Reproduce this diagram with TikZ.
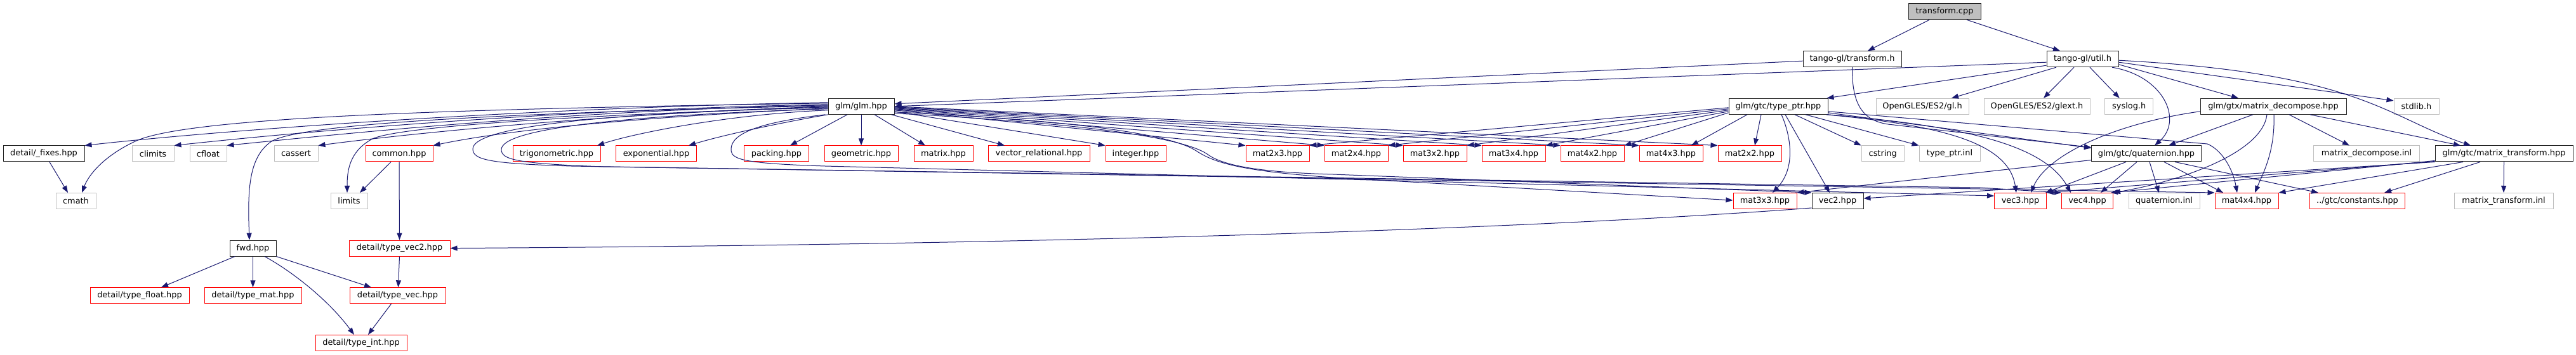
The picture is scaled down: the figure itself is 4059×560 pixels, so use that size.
\documentclass[tikz,border=0pt]{standalone}
\usepackage{fontspec}
\setmainfont{DejaVu Sans}
\usetikzlibrary{arrows.meta}
\definecolor{edgec}{HTML}{191970}
\definecolor{extc}{HTML}{BFBFBF}
\definecolor{redc}{HTML}{FF0000}
\definecolor{docc}{HTML}{202020}
\begin{document}
\begin{tikzpicture}[x=0.5pt,y=-0.5pt,
  box/.style={draw,rectangle,minimum height=12.5pt,inner sep=0pt,line width=0.5pt,fill=white,
    font=\fontsize{6.45}{7.5}\selectfont,text=black},
  doc/.style={box,draw=docc},
  ext/.style={box,draw=extc},
  trunc/.style={box,draw=redc},
  wd/.style={minimum width=#1*0.5pt},
  e/.style={draw=edgec,line width=0.5pt,-{Triangle[length=5.5pt,width=4pt]}}]
\useasboundingbox (0,0) rectangle (4059,560);
\fill[white] (0,0) rectangle (4059,560);
% row 0
\node[doc,wd=114,fill=extc] (tcpp) at (3064,18.3) {transform.cpp};
% row 1
\node[doc,wd=155] (th) at (2918.5,93.2) {tango-gl/transform.h};
\node[doc,wd=113] (tu) at (3281.5,93.2) {tango-gl/util.h};
% row 2
\node[doc,wd=104] (glm) at (1357,167.8) {glm/glm.hpp};
\node[doc,wd=156] (tptr) at (2802,167.8) {glm/gtc/type\_ptr.hpp};
\node[ext,wd=146] (gl) at (3029,167.8) {OpenGLES/ES2/gl.h};
\node[ext,wd=167] (glext) at (3209.5,167.8) {OpenGLES/ES2/glext.h};
\node[ext,wd=76] (syslog) at (3354.7,167.8) {syslog.h};
\node[doc,wd=230] (mdec) at (3582,167.8) {glm/gtx/matrix\_decompose.hpp};
\node[ext,wd=71] (stdlib) at (3807.5,167.8) {stdlib.h};
% row 3
\node[doc,wd=128] (fixes) at (69,242.5) {detail/\_fixes.hpp};
\node[ext,wd=66] (climits) at (241,242.5) {climits};
\node[ext,wd=58] (cfloat) at (328,242.5) {cfloat};
\node[ext,wd=69] (cassert) at (466.5,242.5) {cassert};
\node[trunc,wd=106] (common) at (629,242.5) {common.hpp};
\node[trunc,wd=138] (trig) at (877,242.5) {trigonometric.hpp};
\node[trunc,wd=127] (expo) at (1034,242.5) {exponential.hpp};
\node[trunc,wd=102] (packing) at (1223.5,242.5) {packing.hpp};
\node[trunc,wd=116] (geom) at (1357,242.5) {geometric.hpp};
\node[trunc,wd=93] (matrix) at (1486.5,242.5) {matrix.hpp};
\node[trunc,wd=160] (vrel) at (1637,242.5) {vector\_relational.hpp};
\node[trunc,wd=95] (integer) at (1789.5,242.5) {integer.hpp};
\node[trunc,wd=100] (m23) at (2013,242.5) {mat2x3.hpp};
\node[trunc,wd=100] (m24) at (2137,242.5) {mat2x4.hpp};
\node[trunc,wd=100] (m32) at (2261,242.5) {mat3x2.hpp};
\node[trunc,wd=100] (m34) at (2385,242.5) {mat3x4.hpp};
\node[trunc,wd=100] (m42) at (2509,242.5) {mat4x2.hpp};
\node[trunc,wd=100] (m43) at (2633,242.5) {mat4x3.hpp};
\node[trunc,wd=100] (m22) at (2757,242.5) {mat2x2.hpp};
\node[ext,wd=67] (cstring) at (2966.7,242.5) {cstring};
\node[ext,wd=96] (tpinl) at (3072,242.5) {type\_ptr.inl};
\node[doc,wd=173] (quat) at (3382,242.5) {glm/gtc/quaternion.hpp};
\node[ext,wd=167] (mdinl) at (3729,242.5) {matrix\_decompose.inl};
\node[doc,wd=217] (mtr) at (3945.5,242.5) {glm/gtc/matrix\_transform.hpp};
% row 4
\node[ext,wd=63] (cmath) at (119.5,317) {cmath};
\node[ext,wd=58] (limits) at (550,317) {limits};
\node[trunc,wd=100] (m33) at (2781,317) {mat3x3.hpp};
\node[doc,wd=81] (vec2) at (2895.5,317) {vec2.hpp};
\node[trunc,wd=82] (vec3) at (3183.5,317) {vec3.hpp};
\node[trunc,wd=81] (vec4) at (3289,317) {vec4.hpp};
\node[ext,wd=112] (qinl) at (3410,317) {quaternion.inl};
\node[trunc,wd=100] (m44) at (3540,317) {mat4x4.hpp};
\node[trunc,wd=150] (cst) at (3714.5,317) {../gtc/constants.hpp};
\node[ext,wd=156] (mtinl) at (3945,317) {matrix\_transform.inl};
% row 5-7
\node[doc,wd=73] (fwd) at (398.5,391.6) {fwd.hpp};
\node[trunc,wd=159] (tv2) at (629.5,391.6) {detail/type\_vec2.hpp};
\node[trunc,wd=156] (tfloat) at (220,466.3) {detail/type\_float.hpp};
\node[trunc,wd=153] (tmat) at (398.5,466.3) {detail/type\_mat.hpp};
\node[trunc,wd=151] (tvec) at (626.5,466.3) {detail/type\_vec.hpp};
\node[trunc,wd=144] (tint) at (569,541) {detail/type\_int.hpp};

% ---- edges: transform.cpp
\draw[e] ([shift={(-24,0)}]tcpp.south) -- ([shift={(24.5,0)}]th.north);
\draw[e] ([shift={(35,0)}]tcpp.south) -- ([shift={(-35.5,0)}]tu.north);
% transform.h
\draw[e] ([shift={(0,3)}]th.west) -- ([shift={(0,-4)}]glm.east);
\draw[e] (th.south) .. controls (2918,165) and (2935,190) .. (2975,196) -- ([shift={(0,-10)}]quat.west);
% util.h
\draw[e] ([shift={(0,5)}]tu.west) -- (glm.east);
\draw[e] ([shift={(0,10)}]tu.west) -- ([shift={(-2,0)}]tptr.north east);
\draw[e] ([shift={(-41.5,0)}]tu.south) -- ([shift={(46,0)}]gl.north);
\draw[e] ([shift={(-13.5,0)}]tu.south) -- ([shift={(10.5,0)}]glext.north);
\draw[e] ([shift={(11.5,0)}]tu.south) -- ([shift={(-15,0)}]syslog.north);
\draw[e] ([shift={(46.5,0)}]tu.south) .. controls (3410,120) and (3440,190) .. ([shift={(13,0)}]quat.north);
\draw[e] ([shift={(0,8.5)}]tu.east) -- ([shift={(-55,0)}]mdec.north);
\draw[e] ([shift={(0,5)}]tu.east) -- ([shift={(0,-9)}]stdlib.west);
\draw[e] ([shift={(0,2)}]tu.east) .. controls (3720,115) and (3760,185) .. ([shift={(-52.5,0)}]mtr.north);
% type_ptr.hpp
\draw[e] ([shift={(0,8)}]tptr.east) -- (3478,227) .. controls (3500,236) and (3518,265) .. ([shift={(-15,0)}]m44.north);
\draw[e] ([shift={(0,10)}]tptr.east) -- ([shift={(0,-9)}]quat.west);
\draw[e] ([shift={(-3,0)}]tptr.south east) .. controls (3060,198) and (3165,225) .. ([shift={(-6.5,0)}]vec3.north);
\draw[e] ([shift={(-1,0)}]tptr.south east) .. controls (3120,200) and (3225,235) .. ([shift={(-26,0)}]vec4.north);
\draw[e] ([shift={(26,0)}]tptr.south) -- (cstring.north west);
\draw[e] ([shift={(43,0)}]tptr.south) -- (tpinl.north west);
\draw[e] ([shift={(11,0)}]tptr.south) -- ([shift={(-12.5,0)}]vec2.north);
\draw[e] ([shift={(5,0)}]tptr.south) .. controls (2822,215) and (2830,265) .. ([shift={(12,0)}]m33.north);
\draw[e] ([shift={(-27,0)}]tptr.south) -- ([shift={(8,0)}]m22.north);
\draw[e] ([shift={(-49,0)}]tptr.south) -- ([shift={(32,0)}]m43.north);
\draw[e] ([shift={(0,10)}]tptr.west) -- (m42.north east);
\draw[e] ([shift={(0,8)}]tptr.west) -- (m34.north east);
\draw[e] ([shift={(0,6)}]tptr.west) -- (m32.north east);
\draw[e] ([shift={(0,4)}]tptr.west) -- (m24.north east);
\draw[e] ([shift={(0,2)}]tptr.west) -- (m23.north east);
% glm.hpp to the right
\draw[e] (glm.east) -- (m22.north west);
\draw[e] ([shift={(0,1)}]glm.east) -- (m43.north west);
\draw[e] ([shift={(0,2)}]glm.east) -- (m42.north west);
\draw[e] ([shift={(0,3)}]glm.east) -- (m34.north west);
\draw[e] ([shift={(0,4)}]glm.east) -- (m32.north west);
\draw[e] ([shift={(0,5)}]glm.east) -- (m24.north west);
\draw[e] ([shift={(0,6)}]glm.east) -- (m23.north west);
\draw[e] ([shift={(0,8)}]glm.east) -- (integer.north west);
\draw[e] ([shift={(-5,0)}]glm.south east) -- ([shift={(-54,0)}]vrel.north);
\draw[e] ([shift={(21,0)}]glm.south) -- ([shift={(-28.5,0)}]matrix.north);
\draw[e] (glm.south) -- (geom.north);
\draw[e] ([shift={(-22,0)}]glm.south) -- ([shift={(21.5,0)}]packing.north);
\draw[e] ([shift={(0,9)}]glm.east) .. controls (1700,190) and (1845,212) .. (1885,238) .. controls (1915,258) and (1960,270) .. (2100,280) -- ([shift={(0,-1)}]m33.west);
\draw[e] ([shift={(0,11)}]glm.east) .. controls (1720,195) and (1870,218) .. (1905,245) .. controls (1930,262) and (1990,272) .. (2100,275) -- (vec2.north west);
% glm.hpp loops to row 4
\draw[e] ([shift={(0,2)}]glm.west) .. controls (950,178) and (745,200) .. (745,235) .. controls (745,252) and (770,258) .. (900,262) -- (m44.north west);
\draw[e] ([shift={(0,4)}]glm.west) .. controls (980,182) and (790,203) .. (790,236) .. controls (790,252) and (815,258) .. (950,263) -- (3120,296) -- (vec4.north west);
\draw[e] ([shift={(-4,0)}]glm.south west) .. controls (1180,195) and (1150,215) .. (1152,238) .. controls (1154,252) and (1175,258) .. (1300,262) -- ([shift={(0,-8)}]vec3.west);
% glm.hpp to the left
\draw[e] ([shift={(0,-6)}]glm.west) .. controls (900,168) and (400,200) .. (fixes.north east);
\draw[e] ([shift={(0,-5)}]glm.west) .. controls (700,172) and (300,185) .. (215,222) .. controls (165,245) and (140,275) .. ([shift={(9.5,0)}]cmath.north);
\draw[e] ([shift={(0,-3)}]glm.west) .. controls (900,172) and (500,205) .. (climits.north east);
\draw[e] ([shift={(0,-2)}]glm.west) .. controls (900,174) and (550,210) .. (cfloat.north east);
\draw[e] ([shift={(0,-1)}]glm.west) .. controls (800,178) and (460,195) .. (425,225) .. controls (392,250) and (390,300) .. ([shift={(-5.5,0)}]fwd.north);
\draw[e] (glm.west) .. controls (950,180) and (650,210) .. (cassert.north east);
\draw[e] ([shift={(0,1)}]glm.west) .. controls (900,182) and (620,200) .. (585,220) .. controls (550,240) and (547,270) .. ([shift={(-3,0)}]limits.north);
\draw[e] ([shift={(0,3)}]glm.west) .. controls (1000,185) and (800,205) .. (common.north east);
\draw[e] ([shift={(0,6)}]glm.west) .. controls (1150,180) and (1000,210) .. ([shift={(64,0)}]trig.north);
\draw[e] (glm.south west) .. controls (1250,190) and (1150,210) .. ([shift={(51,0)}]expo.north);
% lower left
\draw[e] ([shift={(-28.5,0)}]fwd.south) -- ([shift={(34,0)}]tfloat.north);
\draw[e] (fwd.south) -- (tmat.north);
\draw[e] ([shift={(18.5,0)}]fwd.south) .. controls (455,425) and (515,470) .. ([shift={(-11,0)}]tint.north);
\draw[e] (fwd.south east) -- ([shift={(-41.5,0)}]tvec.north);
\draw[e] (tv2.south) -- ([shift={(1,0)}]tvec.north);
\draw[e] ([shift={(-10,0)}]tvec.south) -- ([shift={(11,0)}]tint.north);
\draw[e] (common.south) -- (tv2.north);
\draw[e] ([shift={(-13,0)}]common.south) -- ([shift={(17,0)}]limits.north);
\draw[e] ([shift={(9,0)}]fixes.south) -- ([shift={(-12.5,0)}]cmath.north);
\draw[e] ([shift={(0,11)}]vec2.west) .. controls (2500,355) and (1800,385) .. (tv2.east);
% quaternion.hpp
\draw[e] ([shift={(0,-3)}]quat.south west) -- (m33.north east);
\draw[e] ([shift={(-32,0)}]quat.south) -- ([shift={(-2,0)}]vec3.north east);
\draw[e] ([shift={(-15,0)}]quat.south) -- ([shift={(21,0)}]vec4.north);
\draw[e] ([shift={(5,0)}]quat.south) -- ([shift={(-8,0)}]qinl.north);
\draw[e] ([shift={(28,0)}]quat.south) -- ([shift={(-37,0)}]m44.north);
\draw[e] ([shift={(45,0)}]quat.south) -- ([shift={(-61.5,0)}]cst.north);
% matrix_decompose.hpp
\draw[e] ([shift={(0,8)}]mdec.west) .. controls (3330,195) and (3225,245) .. ([shift={(16.5,0)}]vec3.north);
\draw[e] ([shift={(-32,0)}]mdec.south) -- ([shift={(35,0)}]quat.north);
\draw[e] ([shift={(-10,0)}]mdec.south) .. controls (3565,240) and (3440,285) .. (vec4.north east);
\draw[e] ([shift={(1,0)}]mdec.south) .. controls (3585,240) and (3565,275) .. ([shift={(13,0)}]m44.north);
\draw[e] ([shift={(25,0)}]mdec.south) -- ([shift={(-27,0)}]mdinl.north);
\draw[e] ([shift={(58,0)}]mdec.south) -- ([shift={(-68.5,0)}]mtr.north);
% matrix_transform.hpp
\draw[e] (mtr.south) -- (mtinl.north);
\draw[e] ([shift={(-37.5,0)}]mtr.south) -- ([shift={(42.5,0)}]cst.north);
\draw[e] ([shift={(-64.5,0)}]mtr.south) -- (m44.north east);
\draw[e] (mtr.south west) -- ([shift={(0,-4)}]vec2.east);
\draw[e] ([shift={(0,-1)}]mtr.south west) -- (vec3.north east);
\draw[e] ([shift={(0,-2)}]mtr.south west) -- ([shift={(-4,0)}]vec4.north east);
\end{tikzpicture}
\end{document}
